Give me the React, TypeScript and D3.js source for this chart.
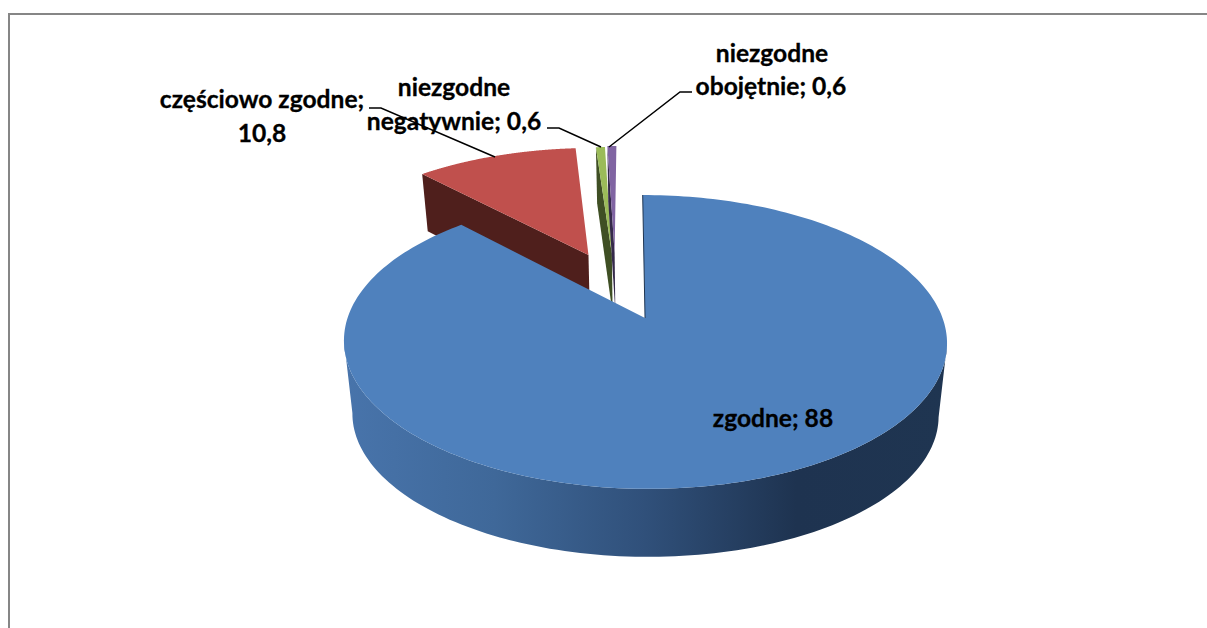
import React from "react";
import * as d3 from "d3";

const categories = ["zgodne", "częściowo zgodne", "niezgodne negatywnie", "niezgodne obojętnie"];
const values = [88, 10.8, 0.6, 0.6];
const topColors = ["#4F81BD", "#C0504D", "#9BBB59", "#8064A2"];
const wallColors = ["url(#blueWall)", "#4F1F1C", "#3F4F24", "#35294A"];

// chart geometry (pseudo 3D projection of the pie plane)
const CX = 644, CY = 318, R = 297.5, H = 143, P = 0.163, SHEAR = 0.018;
const explode: [number, number][] = [[0.0035, 0], [-0.197, 0.475], [-0.1125, 0.486], [-0.1025, 0.497]];

const project = (u: number, v: number): [number, number] => {
  const w = 1 + P * v;
  const y = CY - (H * v) / w;
  return [CX + (R * u) / w + SHEAR * (y - CY), y];
};
const drop = ([x, y]: [number, number]): [number, number] => [CX + 0.975 * (x - CX), 51 + 1.035 * y];
const dropBlue = ([x, y]: [number, number]): [number, number] => [CX + 1.5 + 0.972 * (x - CX - 1.5), 415 + 0.966 * (y - 342)];

const pieLayout = d3.pie<number>().sort(null).value((d) => d);
const slices = pieLayout(values);
const line = d3.line();

const rimPoint = (i: number, a: number) =>
  project(explode[i][0] + Math.sin(a), explode[i][1] + Math.cos(a));
const apex = (i: number) => project(explode[i][0], explode[i][1]);
const rim = (i: number) => {
  const s = slices[i];
  return d3.range(0, 241).map((k) => rimPoint(i, s.startAngle + ((s.endAngle - s.startAngle) * k) / 240));
};
const topPath = (i: number) => line([apex(i), ...rim(i)]) + "Z";
const startWall = (i: number) => {
  const a = apex(i), c = rimPoint(i, slices[i].startAngle);
  return line([a, c, drop(c), drop(a)]) + "Z";
};
// the visible outer wall runs between the two silhouette points of the rim
const outerWall = (i: number) => {
  const r = rim(i);
  const right = d3.greatestIndex(r, (p) => p[0]);
  const left = d3.leastIndex(r, (p) => p[0]);
  const front = r.slice(right, left + 1);
  return line([...front, ...front.map(dropBlue).reverse()]) + "Z";
};

const leaders: [number, number][][] = [
  [[369, 108], [381, 108], [495, 157]],
  [[547, 128], [559, 128], [601, 147]],
  [[609, 147], [680, 92], [692, 92]],
];

const labels = [
  { t: "częściowo zgodne;", x: 262, y: 108 },
  { t: "10,8", x: 262, y: 142 },
  { t: "niezgodne", x: 454, y: 96 },
  { t: "negatywnie; 0,6", x: 454, y: 130 },
  { t: "niezgodne", x: 772, y: 62 },
  { t: "obojętnie; 0,6", x: 771, y: 95 },
  { t: "zgodne; 88", x: 773, y: 427 },
];

export default function App() {
  return (
    <svg width={1207} height={628} style={{ position: "absolute", left: 0, top: 0, display: "block" }}>
      <defs>
        <linearGradient id="blueWall" gradientUnits="userSpaceOnUse" x1={344} x2={947} y1={0} y2={0}>
          <stop offset="0" stopColor="#4874AB" />
          <stop offset="0.25" stopColor="#3F6899" />
          <stop offset="0.5" stopColor="#30507A" />
          <stop offset="0.75" stopColor="#1E3350" />
          <stop offset="1" stopColor="#1F3551" />
        </linearGradient>
      </defs>
      <rect width={1207} height={628} fill="#fff" />
      <path d="M9,628V14H1207" fill="none" stroke="#868686" strokeWidth={2} />
      {[1, 2, 3].map((i) => (
        <g key={categories[i]}>
          <path d={startWall(i)} fill={wallColors[i]} />
          <path d={topPath(i)} fill={topColors[i]} />
        </g>
      ))}
      <path d={outerWall(0)} fill={wallColors[0]} />
      <path d={topPath(0)} fill={topColors[0]} />
      <path d={line([rimPoint(0, 0), apex(0)]) ?? ""} stroke="#1F3551" strokeWidth={1} fill="none" />
      {leaders.map((pts, i) => (
        <path key={i} d={line(pts) ?? ""} fill="none" stroke="#000" strokeWidth={1.5} />
      ))}
      {labels.map((l, i) => (
        <text key={i} x={l.x} y={l.y} textAnchor="middle" fontFamily="Lato" fontWeight={700} fontSize={24.6} stroke="#000" strokeWidth={0.3} fill="#000">
          {l.t}
        </text>
      ))}
    </svg>
  );
}
